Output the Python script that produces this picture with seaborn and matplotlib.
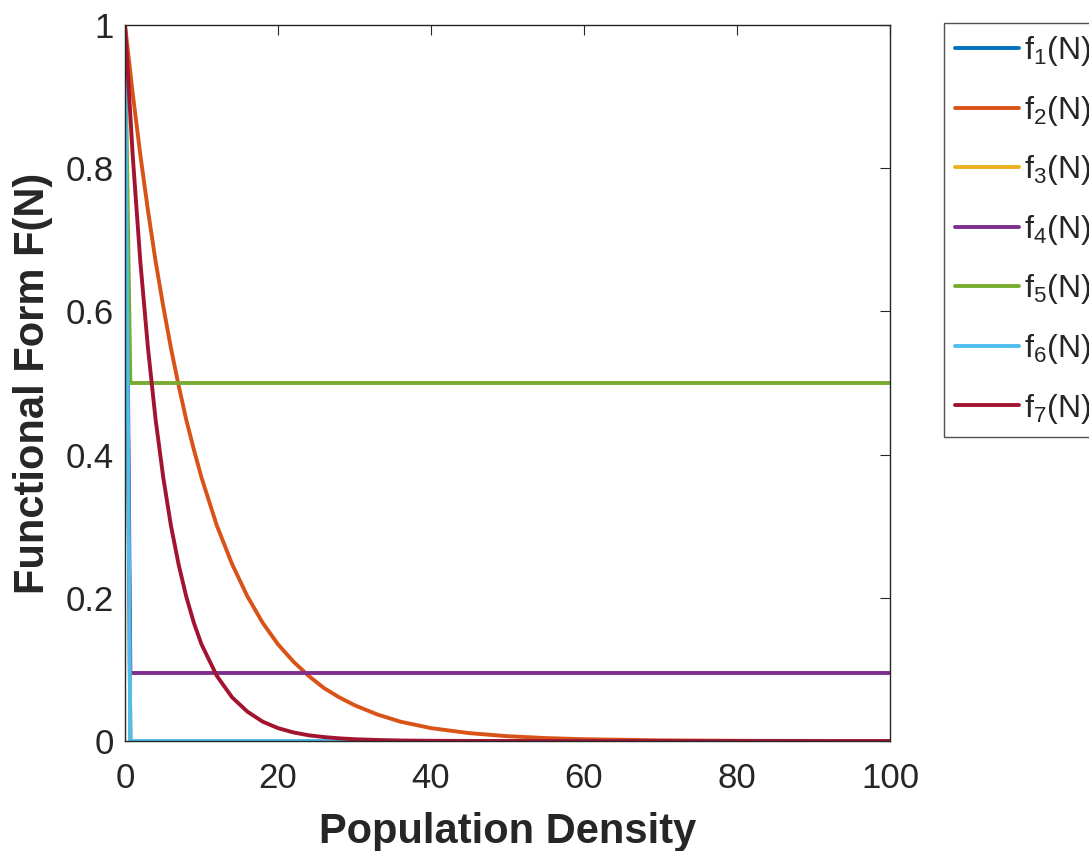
import matplotlib
matplotlib.use("Agg")
import matplotlib.pyplot as plt
import seaborn as sns
import pandas as pd

# ---------------- data ----------------
labels = ["f$_{\\mathregular{1}}$(N)", "f$_{\\mathregular{2}}$(N)", "f$_{\\mathregular{3}}$(N)",
          "f$_{\\mathregular{4}}$(N)", "f$_{\\mathregular{5}}$(N)", "f$_{\\mathregular{6}}$(N)",
          "f$_{\\mathregular{7}}$(N)"]

n_step = [0, 0.7, 100]
f1_vals = [1, 0, 0]
f3_vals = [1, 0, 0]
f4_vals = [1, 0.095, 0.095]
f5_vals = [1, 0.5, 0.5]
f6_vals = [1, 0, 0]

n_curve = [0, 1, 2, 3, 4, 5, 6, 7, 8, 9, 10, 12, 14, 16, 18, 20, 22, 24, 26, 28, 30,
           33, 36, 40, 45, 50, 55, 60, 70, 80, 90, 100]
f2_vals = [1, .905, .819, .741, .670, .607, .549, .497, .449, .407, .368, .301, .247,
           .202, .165, .135, .111, .091, .074, .061, .050, .037, .027, .018, .011,
           .0067, .0041, .0025, .0009, .0003, .0001, 0]
f7_vals = [1, .819, .670, .549, .449, .368, .301, .247, .202, .165, .135, .091, .061,
           .041, .027, .018, .012, .008, .0055, .0037, .0025, .0014, .0007, .0003,
           .0001, 0, 0, 0, 0, 0, 0, 0]

x_ticks = [0, 20, 40, 60, 80, 100]
y_ticks = [0, 0.2, 0.4, 0.6, 0.8, 1]
y_ticklabels = ["0", "0.2", "0.4", "0.6", "0.8", "1"]

colors = ["#0072BD", "#D95319", "#EDB120", "#7E2F8E", "#77AC30", "#4DBEEE", "#A2142F"]

# ---------------- style ----------------
sns.set_theme(style="white")
fam = "Liberation Sans"
plt.rcParams["font.family"] = [fam, "DejaVu Sans"]
plt.rcParams["mathtext.fontset"] = "custom"
plt.rcParams["mathtext.rm"] = fam
plt.rcParams["mathtext.it"] = fam

fig = plt.figure(figsize=(10.89, 8.51), dpi=100)
ax = fig.add_axes([125 / 1089, 1 - 741 / 851, (890 - 125) / 1089, (741 - 25) / 851])

series = [
    (n_step, f1_vals), (n_curve, f2_vals), (n_step, f3_vals), (n_step, f4_vals),
    (n_step, f5_vals), (n_step, f6_vals), (n_curve, f7_vals),
]
for (xs, ys), lab, col in zip(series, labels, colors):
    df = pd.DataFrame({"N": xs, "F": ys})
    sns.lineplot(data=df, x="N", y="F", ax=ax, color=col, linewidth=2.8,
                 label=lab, sort=False, estimator=None)

ax.set_xlim(0, 100)
ax.set_ylim(0, 1)
ax.set_xticks(x_ticks)
ax.set_xticklabels([str(t) for t in x_ticks])
ax.set_yticks(y_ticks)
ax.set_yticklabels(y_ticklabels)

for s in ax.spines.values():
    s.set_color("#262626")
    s.set_linewidth(1.0)
ax.tick_params(direction="in", length=7, width=0.8, color="#262626",
               top=True, right=True, labelsize=25, labelcolor="#262626")
ax.tick_params(axis="x", pad=15)
ax.tick_params(axis="y", pad=8)

ax.set_xlabel("Population Density", fontsize=30, fontweight="bold", color="#262626", labelpad=12)
ax.set_ylabel("Functional Form F(N)", fontsize=30, fontweight="bold", color="#262626", labelpad=9)

leg = ax.legend(loc="upper left", bbox_to_anchor=(944 / 1089, 1 - 23 / 851),
                bbox_transform=fig.transFigure, fontsize=23, frameon=True,
                fancybox=False, handlelength=2.0, handletextpad=0.15,
                labelspacing=0.8, borderpad=0.35, borderaxespad=0)
leg.get_frame().set_edgecolor("#262626")
leg.get_frame().set_linewidth(1.0)
for t in leg.get_texts():
    t.set_color("#262626")

fig.savefig("out.png", dpi=100)
